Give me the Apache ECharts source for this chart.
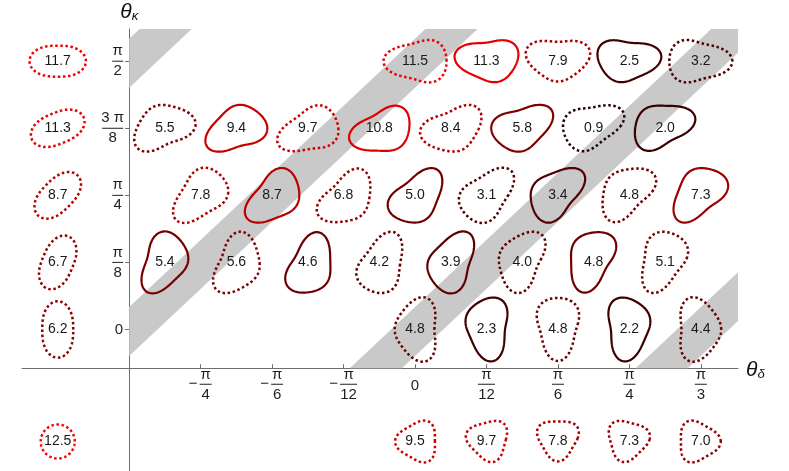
<!DOCTYPE html>
<html><head><meta charset="utf-8">
<script src="https://cdn.jsdelivr.net/npm/echarts@6/dist/echarts.min.js"></script>
<style>html,body{margin:0;padding:0;background:#fff}#c{width:789px;height:471px}</style>
</head><body><div id="c"></div>
<script>
// ---------------- data ----------------
// θδ measured in units of π/12, θκ in units of π/8
const rowKappa = [4, 3, 2, 1, 0];
const rowDelta = [
  [0, 1, 2, 3, 4],
  [-3.5, -2.5, -1.5, -0.5, 0.5, 1.5, 2.5, 3.5],
  [-3, -2, -1, 0, 1, 2, 3, 4],
  [-3.5, -2.5, -1.5, -0.5, 0.5, 1.5, 2.5, 3.5],
  [0, 1, 2, 3, 4]
];
const rowValues = [
  [11.5, 11.3, 7.9, 2.5, 3.2],
  [5.5, 9.4, 9.7, 10.8, 8.4, 5.8, 0.9, 2.0],
  [7.8, 8.7, 6.8, 5.0, 3.1, 3.4, 4.8, 7.3],
  [5.4, 5.6, 4.6, 4.2, 3.9, 4.0, 4.8, 5.1],
  [4.8, 2.3, 4.8, 2.2, 4.4]
];
const rowSolid = [
  [0, 1, 0, 1, 0],
  [0, 1, 0, 1, 0, 1, 0, 1],
  [0, 1, 0, 1, 0, 1, 0, 1],
  [1, 0, 1, 0, 1, 0, 1, 0],
  [0, 1, 0, 1, 0]
];
const kappaOnlyKappa = [4, 3, 2, 1, 0];
const kappaOnlyValues = [11.7, 11.3, 8.7, 6.7, 6.2];
const deltaOnlyDelta = [0, 1, 2, 3, 4];
const deltaOnlyValues = [9.5, 9.7, 7.8, 7.3, 7.0];
const circleValue = 12.5;

const xTickValues = [-3, -2, -1, 0, 1, 2, 3, 4];
const xTickLabels = [['−','π','4'], ['−','π','6'], ['−','π','12'], ['0'], ['','π','12'], ['','π','6'], ['','π','4'], ['','π','3']];
const yTickValues = [0, 1, 2, 3, 4];
const yTickLabels = [['0'], ['π','8'], ['π','4'], ['3 π','8'], ['π','2']];

// shaded bands: centre of θκ/(π/8) − θδ/(π/12), and half width
const bandCenters = [-4.03, -0.03, 3.97, 7.97];
const bandHalfWidth = 0.365;

// ---------------- layout / style ----------------
const X_MIN = -5.5, X_MAX = 4.52, Y_MIN = -2.11, Y_MAX = 4.48;
const G = {left: 22, right: 51, top: 29, bottom: 0};
const W = 789, H = 471;
const CROSS_U = -4, CROSS_V = -0.578;       // where the two axes cross
const KAPPA_ONLY_U = -5, DELTA_ONLY_V = -1.67; // placement of the marginal shapes
const plotW = W - G.left - G.right, plotH = H - G.top - G.bottom;
const yAxisPx = G.left + (CROSS_U - X_MIN) / (X_MAX - X_MIN) * plotW;
const xAxisPy = G.top + (Y_MAX - CROSS_V) / (Y_MAX - Y_MIN) * plotH;
const Y_OFFSET = -(yAxisPx - G.left);
const X_OFFSET = -((H - G.bottom) - xAxisPy);

// shape families: 0 grid (elongation+triangularity), 1 elongation only, 2 triangularity only, 3 circle
const SHAPE = [
  {e2: 0.22, e3: 0.12, r0: 24},
  {e2: 0.29, e3: 0, r0: 20},
  {e2: 0, e3: 0.14, r0: 19.5},
  {e2: 0, e3: 0, r0: 17}
];
const FONT = '"Liberation Sans", Arial, sans-serif';

// ---------------- build series data ----------------
const shapeData = [];
rowKappa.forEach((k, i) => {
  rowDelta[i].forEach((d, j) => shapeData.push([d, k, rowValues[i][j], rowSolid[i][j], 0]));
});
kappaOnlyKappa.forEach((k, i) => shapeData.push([KAPPA_ONLY_U, k, kappaOnlyValues[i], 0, 1]));
deltaOnlyDelta.forEach((d, i) => shapeData.push([d, DELTA_ONLY_V, deltaOnlyValues[i], 0, 2]));
shapeData.push([KAPPA_ONLY_U, DELTA_ONLY_V, circleValue, 0, 3]);

function clipAxis(pts, axis, bound, keepGE) {
  const out = [];
  for (let i = 0; i < pts.length; i++) {
    const a = pts[i], b = pts[(i + 1) % pts.length];
    const ina = keepGE ? a[axis] >= bound : a[axis] <= bound;
    const inb = keepGE ? b[axis] >= bound : b[axis] <= bound;
    if (ina) out.push(a);
    if (ina !== inb) {
      const t = (bound - a[axis]) / (b[axis] - a[axis]);
      out.push([a[0] + t * (b[0] - a[0]), a[1] + t * (b[1] - a[1])]);
    }
  }
  return out;
}

function fracX(value) {
  const parts = xTickLabels[xTickValues.indexOf(value)];
  if (!parts) return '';
  if (parts.length === 1) return '{z|' + parts[0] + '}';
  const [sign, num, den] = parts;
  const w = den.length > 1 ? '2' : '1';
  if (!sign) return '{n' + w + '|' + num + '}\n{b' + w + '|}\n{d' + w + '|' + den + '}';
  return '{ps|}{n' + w + '|' + num + '}{tp|}\n{m|' + sign + '}{b' + w + '|}{tp|}\n{ps|}{d' + w + '|' + den + '}{tp|}';
}
function fracY(value) {
  const parts = yTickLabels[yTickValues.indexOf(value)];
  if (!parts) return '';
  if (parts.length === 1) return '{z|' + parts[0] + '}';
  const [num, den] = parts;
  const w = num.length > 1 ? '2' : '1';
  return '{n' + w + '|' + num + '}\n{b' + w + '|}\n{d' + w + '|' + den + '}';
}
const tc = '#1e1e1e';
const FS = 15;
const richX = {
  z: {fontSize: FS, lineHeight: 34, fontFamily: FONT, color: tc},
  n1: {width: 12, align: 'center', fontSize: FS, lineHeight: 12, fontFamily: FONT, color: tc},
  n2: {width: 17, align: 'center', fontSize: FS, lineHeight: 12, fontFamily: FONT, color: tc},
  b1: {width: 12, height: 1, lineHeight: 6, align: 'center', backgroundColor: tc},
  b2: {width: 17, height: 1, lineHeight: 6, align: 'center', backgroundColor: tc},
  d1: {width: 12, align: 'center', fontSize: FS, lineHeight: 16, fontFamily: FONT, color: tc},
  d2: {width: 17, align: 'center', fontSize: FS, lineHeight: 16, fontFamily: FONT, color: tc},
  m: {width: 13, align: 'center', fontSize: FS, lineHeight: 6, fontFamily: FONT, color: tc},
  ps: {width: 13, align: 'center', lineHeight: 6},
  tp: {width: 3, align: 'center', lineHeight: 6}
};
const richY = {
  z: {fontSize: FS, lineHeight: 16, fontFamily: FONT, color: tc},
  n1: {width: 11, align: 'center', fontSize: FS, lineHeight: 14, fontFamily: FONT, color: tc},
  n2: {width: 21, align: 'center', fontSize: FS, lineHeight: 14, fontFamily: FONT, color: tc},
  b1: {width: 11, height: 1, lineHeight: 6, align: 'center', backgroundColor: tc},
  b2: {width: 21, height: 1, lineHeight: 6, align: 'center', backgroundColor: tc},
  d1: {width: 11, align: 'center', fontSize: FS, lineHeight: 14, fontFamily: FONT, color: tc},
  d2: {width: 21, align: 'center', fontSize: FS, lineHeight: 14, fontFamily: FONT, color: tc}
};
const richName = {
  t: {fontFamily: FONT, fontStyle: 'italic', fontSize: 21, lineHeight: 22, color: '#111'},
  s: {fontFamily: FONT, fontStyle: 'italic', fontSize: 13, lineHeight: 12, verticalAlign: 'bottom', color: '#111'}
};
const axisColor = '#6e6e6e';

const chart = echarts.init(document.getElementById('c'), null, {renderer: 'canvas'});
chart.setOption({
  animation: false,
  backgroundColor: '#fff',
  grid: {left: G.left, right: G.right, top: G.top, bottom: G.bottom, containLabel: false, outerBoundsMode: 'none'},
  xAxis: {
    type: 'value', min: X_MIN, max: X_MAX, position: 'bottom', offset: X_OFFSET,
    splitLine: {show: false},
    axisLine: {show: true, onZero: false, lineStyle: {color: axisColor, width: 1}},
    axisTick: {show: true, inside: true, length: 4, customValues: xTickValues, lineStyle: {color: axisColor}},
    axisLabel: {show: true, customValues: xTickValues, margin: 1, formatter: fracX, rich: richX},
    name: '{t|θ}{s|δ}', nameLocation: 'end', nameGap: 8,
    nameTextStyle: {rich: richName, padding: [4, 0, 0, 0]}
  },
  yAxis: {
    type: 'value', min: Y_MIN, max: Y_MAX, position: 'left', offset: Y_OFFSET,
    splitLine: {show: false},
    axisLine: {show: true, onZero: false, lineStyle: {color: axisColor, width: 1}},
    axisTick: {show: true, inside: false, length: 4, customValues: yTickValues, lineStyle: {color: axisColor}},
    axisLabel: {show: true, customValues: yTickValues, margin: 6, formatter: fracY, rich: richY},
    name: '{t|θ}{s|κ}', nameLocation: 'end', nameGap: 6,
    nameTextStyle: {rich: richName}
  },
  visualMap: {
    type: 'continuous', show: false, seriesIndex: 1, dimension: 2,
    min: 0, max: 12.5, inRange: {color: ['#140000', '#ff0000']}
  },
  series: [
    {
      type: 'custom', coordinateSystem: 'cartesian2d', silent: true, z: 1,
      data: bandCenters.map(c => [c]),
      encode: {x: 0},
      renderItem(params, api) {
        const c = api.value(0), hw = bandHalfWidth;
        let poly = [[-30, -30 + c - hw], [30, 30 + c - hw], [30, 30 + c + hw], [-30, -30 + c + hw]];
        poly = clipAxis(poly, 0, CROSS_U, true);
        poly = clipAxis(poly, 0, X_MAX, false);
        poly = clipAxis(poly, 1, CROSS_V, true);
        poly = clipAxis(poly, 1, Y_MAX, false);
        if (poly.length < 3) return null;
        return {type: 'polygon', shape: {points: poly.map(p => api.coord(p))}, style: {fill: '#c9c9c9'}};
      }
    },
    {
      type: 'custom', coordinateSystem: 'cartesian2d', silent: true, z: 3,
      data: shapeData,
      encode: {x: 0, y: 1},
      renderItem(params, api) {
        const u = api.value(0), v = api.value(1), val = api.value(2), solid = api.value(3), kind = api.value(4);
        const c = api.coord([u, v]);
        const sp = SHAPE[kind];
        const tk = v * Math.PI / 8, td = u * Math.PI / 12;
        const raw = [];
        const N = 160;
        let x0 = Infinity, x1 = -Infinity, y0 = Infinity, y1 = -Infinity;
        for (let i = 0; i < N; i++) {
          const t = 2 * Math.PI * i / N;
          const r = sp.r0 / (1 + sp.e2 * Math.cos(2 * (t + tk)) + sp.e3 * Math.cos(3 * (t + td)));
          const px = r * Math.cos(t), py = -r * Math.sin(t);
          raw.push([px, py]);
          x0 = Math.min(x0, px); x1 = Math.max(x1, px); y0 = Math.min(y0, py); y1 = Math.max(y1, py);
        }
        const mx = (x0 + x1) / 2, my = (y0 + y1) / 2;
        const pts = raw.map(p => [c[0] + p[0] - mx, c[1] + p[1] - my]);
        const col = api.visual('color');
        return {
          type: 'group',
          children: [
            {type: 'polygon', shape: {points: pts},
             style: {fill: 'none', stroke: col, lineWidth: solid ? 2.2 : 2.5, lineDash: solid ? null : [2.5, 2.6]}},
            {type: 'text', style: {text: val.toFixed(1), x: c[0], y: c[1], align: 'center', verticalAlign: 'middle',
              font: '14px ' + FONT, fill: '#1a1a1a'}}
          ]
        };
      }
    }
  ]
});
</script></body></html>
